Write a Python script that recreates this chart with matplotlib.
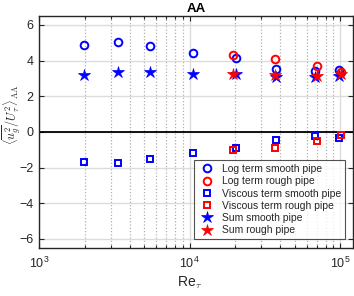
import numpy as np
import matplotlib
matplotlib.use("Agg")
import matplotlib.pyplot as plt
from matplotlib.ticker import LogLocator, NullFormatter

plt.rcParams['font.family'] = ['Liberation Sans', 'DejaVu Sans']
plt.rcParams['mathtext.fontset'] = 'cm'

# Re_tau, smooth and rough pipe
re_smooth = [1985, 3334, 5411, 10480, 20250, 37690, 68371, 98190]
re_rough = [19400, 37000, 70000, 101000]

# terms, smooth pipe
log_smooth = [4.87, 5.02, 4.81, 4.45, 4.17, 3.55, 3.40, 3.47]
visc_smooth = [-1.68, -1.73, -1.51, -1.17, -0.92, -0.45, -0.23, -0.36]
sum_smooth = [3.21, 3.34, 3.34, 3.27, 3.22, 3.07, 3.07, 3.13]

# terms, rough pipe
log_rough = [4.32, 4.11, 3.68, 3.35]
visc_rough = [-1.02, -0.89, -0.49, -0.17]
sum_rough = [3.26, 3.17, 3.13, 3.24]

fig = plt.figure(figsize=(3.54, 2.96), dpi=100)
ax = fig.add_axes([0.111, 0.163, 0.885, 0.783])

txt = '#262626'
ax.set_xscale('log')
ax.set_xlim(1e3, 1.21e5)
ax.set_ylim(-6.5, 6.5)
ax.set_yticks([-6, -4, -2, 0, 2, 4, 6])
ax.xaxis.set_minor_locator(LogLocator(base=10, subs=np.arange(2, 10)))
ax.xaxis.set_minor_formatter(NullFormatter())

ax.grid(True, which='major', color='#dcdcdc', lw=1.0, ls='-')
ax.grid(True, which='minor', axis='x', color='#b0b0b0', lw=0.9, ls=(0, (1, 1.6)))
ax.set_axisbelow(True)
ax.axhline(0, color='black', lw=1.3, zorder=1)

ax.plot(re_smooth, log_smooth, 'o', mfc='none', mec='blue', ms=5.5, mew=1.4, label='Log term smooth pipe')
ax.plot(re_rough, log_rough, 'o', mfc='none', mec='red', ms=5.5, mew=1.4, label='Log term rough pipe')
ax.plot(re_smooth, visc_smooth, 's', mfc='none', mec='blue', ms=4.5, mew=1.4, label='Viscous term smooth pipe')
ax.plot(re_rough, visc_rough, 's', mfc='none', mec='red', ms=4.5, mew=1.4, label='Viscous term rough pipe')
ax.plot(re_smooth, sum_smooth, '*', color='blue', ms=9, mew=0.5, label='Sum smooth pipe')
ax.plot(re_rough, sum_rough, '*', color='red', ms=9, mew=0.5, label='Sum rough pipe')

ax.tick_params(which='both', direction='in', top=True, right=True, colors=txt, labelsize=9)
ax.tick_params(axis='x', which='major', pad=6)
ax.tick_params(axis='y', which='major', pad=4)
ax.tick_params(which='major', length=3.5, width=0.8)
ax.tick_params(which='minor', length=2, width=0.8)
for s in ax.spines.values():
    s.set_color('#262626')
    s.set_linewidth(1.0)

ax.set_title('AA', fontsize=9.5, fontweight='bold', color='black', pad=3)
ax.set_xlabel(r'Re$_\tau$', fontsize=10, color=txt)
ax.xaxis.set_label_coords(0.48, -0.115, transform=ax.transAxes)
ax.xaxis.label.set_va('top')
ax.set_ylabel(r'$\langle \overline{u_g^2}/U_\tau^2\rangle_{\mathrm{AA}}$', fontsize=8.8, color=txt)
ax.yaxis.set_label_coords(-0.052, 0.573)

leg = ax.legend(loc='lower right', fontsize=7.5, frameon=True, fancybox=False, edgecolor='#262626',
                borderpad=0.35, labelspacing=0.22, handletextpad=0.5, handlelength=1.8,
                borderaxespad=0, bbox_to_anchor=(0.975, 0.0375))
leg.get_frame().set_linewidth(0.8)
for t in leg.get_texts():
    t.set_color(txt)

fig.savefig('out.png', dpi=100)
